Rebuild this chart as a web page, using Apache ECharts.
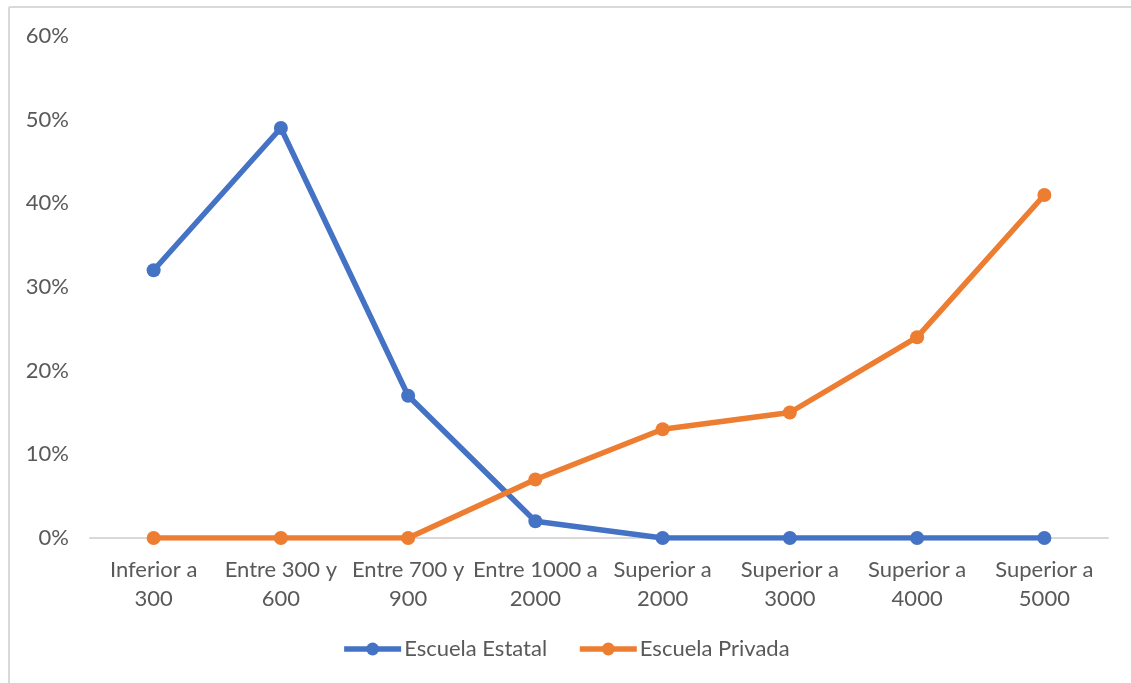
<!DOCTYPE html>
<html>
<head>
<meta charset="utf-8">
<script src="https://cdn.jsdelivr.net/npm/echarts@6/dist/echarts.min.js"></script>
<style>
  html, body { margin: 0; padding: 0; background: #fff; }
  #chart { width: 1131px; height: 683px; }
</style>
</head>
<body>
<div id="chart"></div>
<script>
const categories = ['Inferior a\n300', 'Entre 300 y\n600', 'Entre 700 y\n900', 'Entre 1000 a\n2000',
  'Superior a\n2000', 'Superior a\n3000', 'Superior a\n4000', 'Superior a\n5000']
const estatal = [32, 49, 17, 2, 0, 0, 0, 0]
const privada = [0, 0, 0, 7, 13, 15, 24, 41]
const yTicks = [0, 10, 20, 30, 40, 50, 60]

const font = 'Lato, "Open Sans", sans-serif'
const chart = echarts.init(document.getElementById('chart'), null, { renderer: 'canvas' })

function lineSeries(name, data, color) {
  return {
    name, type: 'line', data,
    symbol: 'circle', symbolSize: 14,
    lineStyle: { width: 5.5, color },
    itemStyle: { color },
    emphasis: { disabled: true },
    animation: false,
  }
}

chart.setOption({
  backgroundColor: '#fff',
  animation: false,
  graphic: [
    { type: 'line', shape: { x1: 9, y1: 7, x2: 1131, y2: 7 }, style: { stroke: '#d9d9d9', lineWidth: 2 } },
    { type: 'line', shape: { x1: 9, y1: 7, x2: 9, y2: 683 }, style: { stroke: '#d9d9d9', lineWidth: 2 } },
  ],
  grid: { left: 90, right: 23, top: 36, bottom: 145 },
  legend: {
    bottom: 18, left: 'center',
    itemWidth: 57, itemHeight: 16, itemGap: 30,
    lineStyle: { width: 5.5 },
    textStyle: { color: '#595959', fontSize: 22, fontFamily: font, padding: [0, 0, 0, -2] },
    data: ['Escuela Estatal', 'Escuela Privada'],
  },
  xAxis: {
    type: 'category', data: categories, boundaryGap: true,
    axisLine: { lineStyle: { color: '#d9d9d9', width: 2 } },
    axisTick: { show: false },
    axisLabel: { color: '#595959', fontSize: 22, fontFamily: font, lineHeight: 29, margin: 17, interval: 0 },
    splitLine: { show: false },
  },
  yAxis: {
    type: 'value', min: yTicks[0], max: yTicks[yTicks.length - 1], interval: 10,
    axisLine: { show: false }, axisTick: { show: false },
    axisLabel: { color: '#595959', fontSize: 22, fontFamily: font, margin: 21, formatter: v => v + '%' },
    splitLine: { show: false },
  },
  series: [
    lineSeries('Escuela Estatal', estatal, '#4472c4'),
    lineSeries('Escuela Privada', privada, '#ed7d31'),
  ],
})
</script>
</body>
</html>
